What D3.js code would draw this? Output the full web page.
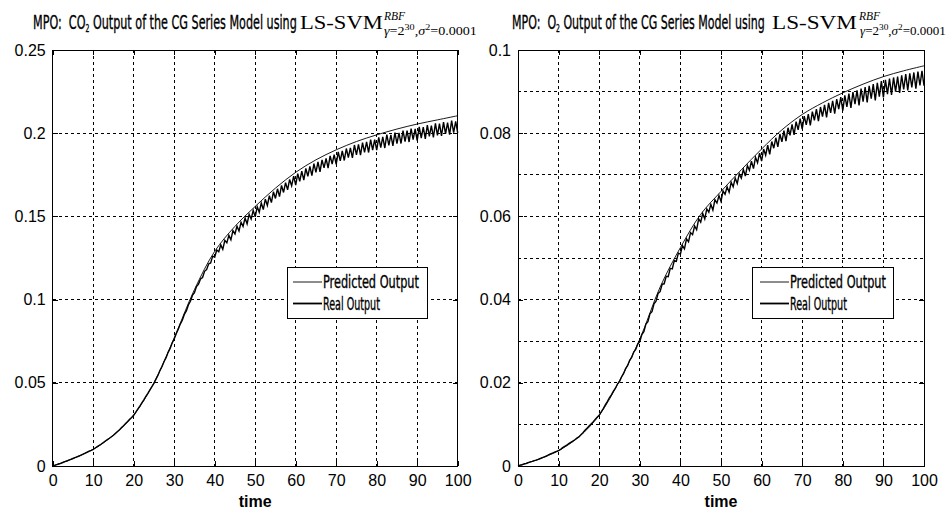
<!DOCTYPE html>
<html><head><meta charset="utf-8">
<script src="https://cdn.jsdelivr.net/npm/d3@7"></script>
<style>body{margin:0;background:#fff}svg{display:block}text{white-space:pre}</style>
</head><body>
<script>
// ---------- DATA ----------
const predTime = [0,5,10,15,20,25,30,35,40,45,50,55,60,65,70,75,80,85,90,95,100];
const co2Pred = [0,0.0045,0.0100,0.0185,0.0306,0.0500,0.0770,0.1060,0.1290,0.1440,0.1560,0.1670,0.1765,0.1840,0.1900,0.1950,0.1990,0.2025,0.2055,0.2080,0.2105];
const o2Pred = [0,0.0016,0.0037,0.0070,0.0122,0.0205,0.0305,0.0430,0.0525,0.0605,0.0660,0.0712,0.0762,0.0808,0.0845,0.0873,0.0897,0.0918,0.0936,0.0950,0.0962];

const realTime = d3.range(0, 100.25, 0.5);
const co2Real = [
0,0.0004,0.0008,0.0012,0.0016,0.0021,0.0026,0.0030,0.0035,0.0040,
0.0045,0.0050,0.0055,0.0060,0.0066,0.0072,0.0077,0.0083,0.0089,0.0094,
0.0100,0.0108,0.0116,0.0124,0.0132,0.0141,0.0150,0.0159,0.0167,0.0176,
0.0185,0.0196,0.0207,0.0218,0.0231,0.0242,0.0256,0.0267,0.0281,0.0292,
0.0305,0.0322,0.0342,0.0359,0.0380,0.0397,0.0419,0.0437,0.0458,0.0477,
0.0497,0.0522,0.0546,0.0575,0.0598,0.0628,0.0651,0.0683,0.0706,0.0739,
0.0763,0.0795,0.0822,0.0853,0.0876,0.0911,0.0932,0.0968,0.0990,0.1025,
0.1041,0.1078,0.1093,0.1124,0.1133,0.1170,0.1180,0.1214,0.1220,0.1261,
0.1255,0.1298,0.1288,0.1329,0.1302,0.1356,0.1341,0.1386,0.1359,0.1415,
0.1395,0.1441,0.1412,0.1465,0.1440,0.1490,0.1455,0.1513,0.1484,0.1536,
0.1497,0.1558,0.1525,0.1581,0.1541,0.1604,0.1566,0.1624,0.1583,0.1648,
0.1608,0.1666,0.1619,0.1686,0.1644,0.1703,0.1660,0.1722,0.1684,0.1742,
0.1688,0.1757,0.1711,0.1772,0.1718,0.1788,0.1741,0.1801,0.1745,0.1817,
0.1765,0.1828,0.1768,0.1840,0.1792,0.1849,0.1790,0.1864,0.1815,0.1871,
0.1813,0.1888,0.1834,0.1893,0.1836,0.1908,0.1853,0.1912,0.1852,0.1929,
0.1870,0.1933,0.1868,0.1944,0.1885,0.1948,0.1884,0.1961,0.1899,0.1962,
0.1898,0.1975,0.1913,0.1978,0.1911,0.1991,0.1927,0.1990,0.1924,0.2004,
0.1937,0.2002,0.1938,0.2016,0.1950,0.2015,0.1947,0.2027,0.1962,0.2026,
0.1956,0.2038,0.1970,0.2037,0.1966,0.2049,0.1981,0.2046,0.1975,0.2059,
0.1987,0.2057,0.1984,0.2067,0.1996,0.2064,0.1991,0.2075,0.2004,0.2071,
0.2002];
const o2Real = [
0,0.0002,0.0003,0.0005,0.0006,0.0008,0.0010,0.0011,0.0013,0.0014,
0.0016,0.0018,0.0020,0.0022,0.0024,0.0027,0.0029,0.0031,0.0033,0.0035,
0.0037,0.0040,0.0044,0.0047,0.0050,0.0054,0.0057,0.0060,0.0063,0.0067,
0.0070,0.0075,0.0080,0.0086,0.0091,0.0096,0.0101,0.0106,0.0112,0.0117,
0.0122,0.0130,0.0138,0.0147,0.0155,0.0164,0.0171,0.0180,0.0187,0.0197,
0.0203,0.0214,0.0222,0.0234,0.0241,0.0254,0.0261,0.0274,0.0280,0.0293,
0.0299,0.0316,0.0323,0.0341,0.0347,0.0366,0.0371,0.0390,0.0396,0.0415,
0.0419,0.0437,0.0438,0.0456,0.0455,0.0475,0.0474,0.0494,0.0492,0.0512,
0.0509,0.0530,0.0522,0.0546,0.0539,0.0561,0.0556,0.0577,0.0568,0.0594,
0.0586,0.0607,0.0594,0.0618,0.0610,0.0629,0.0615,0.0640,0.0632,0.0650,
0.0636,0.0661,0.0653,0.0671,0.0658,0.0682,0.0671,0.0692,0.0679,0.0702,
0.0692,0.0713,0.0697,0.0722,0.0711,0.0733,0.0715,0.0742,0.0729,0.0752,
0.0733,0.0762,0.0747,0.0771,0.0749,0.0780,0.0764,0.0789,0.0767,0.0798,
0.0779,0.0806,0.0781,0.0813,0.0795,0.0821,0.0796,0.0828,0.0808,0.0835,
0.0810,0.0841,0.0820,0.0846,0.0819,0.0852,0.0831,0.0858,0.0829,0.0863,
0.0840,0.0868,0.0838,0.0873,0.0849,0.0878,0.0847,0.0882,0.0858,0.0887,
0.0854,0.0891,0.0863,0.0895,0.0861,0.0899,0.0870,0.0903,0.0867,0.0907,
0.0876,0.0911,0.0874,0.0914,0.0883,0.0918,0.0879,0.0921,0.0888,0.0925,
0.0886,0.0928,0.0894,0.0931,0.0892,0.0934,0.0900,0.0936,0.0897,0.0939,
0.0905,0.0942,0.0903,0.0944,0.0910,0.0946,0.0907,0.0948,0.0915,0.0950,
0.0914];

const xTicks = [0,10,20,30,40,50,60,70,80,90,100];
const co2Ticks = [0,0.05,0.1,0.15,0.2,0.25];
const o2Ticks = [0,0.02,0.04,0.06,0.08,0.1];
const o2GridY = [0,0.01,0.02,0.03,0.04,0.05,0.06,0.07,0.08,0.09,0.1];
const legendLabels = ["Predicted Output","Real Output"];
const xLabel = "time";
const titleGases = ["CO","O"];
const titleRest = " Output of the CG Series Model using";
const modelName = "LS-SVM";
const kernelName = "RBF";

// ---------- DRAW ----------
const W = 950, H = 509;
const svg = d3.select("body").append("svg").attr("width", W).attr("height", H);
const condensed = "'Liberation Sans Narrow','DejaVu Sans Condensed','Roboto Condensed',sans-serif";
const serif = "'Liberation Serif','DejaVu Serif',serif";
const sans = "'Liberation Sans',Arial,sans-serif";

const panels = [
  {x0:52.7, x1:457.7, y0:50, y1:466, yMax:0.25, yTicks:co2Ticks, yGrid:co2Ticks, pred:co2Pred, real:co2Real,
   gas:titleGases[0], t0:33, t1:297, ls0:300, ls1:383, sup0:384, sub0:384, sub1:477,
   leg:{x:287, y:267, w:140, h:51, lx0:293, lx1:322}},
  {x0:518, x1:924, y0:50, y1:466, yMax:0.1, yTicks:o2Ticks, yGrid:o2GridY, pred:o2Pred, real:o2Real,
   gas:titleGases[1], t0:512, t1:765, ls0:772, ls1:857, sup0:859, sub0:860, sub1:946,
   leg:{x:752, y:267, w:141, h:51, lx0:760, lx1:789}}
];

function fitX(g, x0, x1, y) {
  const bb = g.node().getBBox();
  const sx = (x1 - x0) / bb.width;
  g.attr("transform", `translate(${x0 - bb.x*sx},${y}) scale(${sx},1)`);
}

panels.forEach(p => {
  const x = d3.scaleLinear().domain([0,100]).range([p.x0, p.x1]);
  const y = d3.scaleLinear().domain([0,p.yMax]).range([p.y1, p.y0]);
  const g = svg.append("g");

  // grid
  g.append("g").selectAll("line").data(xTicks.slice(1,-1)).join("line")
    .attr("x1", d=>x(d)).attr("x2", d=>x(d)).attr("y1", p.y0).attr("y2", p.y1)
    .attr("stroke","#000").attr("stroke-width",1).attr("stroke-dasharray","3,3").attr("shape-rendering","crispEdges");
  g.append("g").selectAll("line").data(p.yGrid.slice(1,-1)).join("line")
    .attr("x1", p.x0).attr("x2", p.x1).attr("y1", d=>y(d)).attr("y2", d=>y(d))
    .attr("stroke","#000").attr("stroke-width",1).attr("stroke-dasharray","3,3").attr("shape-rendering","crispEdges");

  // axes
  g.append("g").attr("transform",`translate(0,${p.y1})`)
    .call(d3.axisBottom(x).tickValues(xTicks).tickSize(-5).tickPadding(9).tickFormat(d3.format("d")));
  g.append("g").attr("transform",`translate(${p.x0},0)`)
    .call(d3.axisLeft(y).tickValues(p.yTicks).tickSize(-5).tickPadding(7).tickFormat(d => d===0 ? "0" : String(+d.toFixed(3))));
  g.append("g").attr("transform",`translate(0,${p.y0})`)
    .call(d3.axisTop(x).tickValues(xTicks).tickSize(-5).tickFormat(""));
  g.append("g").attr("transform",`translate(${p.x1},0)`)
    .call(d3.axisRight(y).tickValues(p.yTicks).tickSize(-5).tickFormat(""));
  g.selectAll(".domain").remove();
  g.selectAll(".tick line").attr("stroke","#000").attr("shape-rendering","crispEdges");
  g.selectAll(".tick text").attr("font-family", sans).attr("font-size", 16).attr("fill","#000");

  // data lines
  const realLine = d3.line().x((d,i)=>x(realTime[i])).y(d=>y(d));
  const predLine = d3.line().x((d,i)=>x(predTime[i])).y(d=>y(d)).curve(d3.curveCatmullRom.alpha(0.5));
  g.append("path").datum(p.real).attr("d", realLine).attr("fill","none").attr("stroke","#000").attr("stroke-width",1.4);
  g.append("path").datum(p.pred).attr("d", predLine).attr("fill","none").attr("stroke","#000").attr("stroke-width",0.9);

  // frame
  g.append("rect").attr("x",p.x0).attr("y",p.y0).attr("width",p.x1-p.x0).attr("height",p.y1-p.y0)
    .attr("fill","none").attr("stroke","#000").attr("stroke-width",1).attr("shape-rendering","crispEdges");

  // x label
  g.append("text").attr("x",(p.x0+p.x1)/2).attr("y",507).attr("text-anchor","middle")
    .attr("font-family",sans).attr("font-weight","bold").attr("font-size",16).text(xLabel);

  // legend
  const L = p.leg;
  const lg = g.append("g");
  lg.append("rect").attr("x",L.x).attr("y",L.y).attr("width",L.w).attr("height",L.h)
    .attr("fill","#fff").attr("stroke","#000").attr("stroke-width",1).attr("shape-rendering","crispEdges");
  legendLabels.forEach((lab,i) => {
    const cy = L.y + 15 + i*21.5;
    lg.append("line").attr("x1",L.lx0).attr("x2",L.lx1).attr("y1",cy).attr("y2",cy)
      .attr("stroke","#000").attr("stroke-width", i===0 ? 0.9 : 1.8);
    const tg = lg.append("g");
    tg.append("text").attr("x",0).attr("y",0).attr("font-family",condensed).attr("font-size",18)
      .attr("fill","#000").attr("stroke","#000").attr("stroke-width",0.35).text(lab);
    const wTarget = i===0 ? 96 : 57;
    fitX(tg, L.lx1+1, L.lx1+1+wTarget, cy+6);
  });

  // title: condensed part
  const tg = svg.append("g");
  const tt = tg.append("text").attr("font-family",condensed).attr("font-size",20).attr("fill","#000")
    .attr("stroke","#000").attr("stroke-width",0.35);
  tt.append("tspan").text("MPO:  " + p.gas);
  tt.append("tspan").attr("font-size",11).attr("dy",3).text("2");
  tt.append("tspan").attr("dy",-3).text(titleRest);
  fitX(tg, p.t0, p.t1, 29);

  // LS-SVM
  const lsg = svg.append("g");
  lsg.append("text").attr("font-family",serif).attr("font-size",19).attr("fill","#000").text(modelName);
  fitX(lsg, p.ls0, p.ls1, 29);
  // superscript RBF
  svg.append("text").attr("x",p.sup0).attr("y",20).attr("font-family",serif).attr("font-style","italic")
    .attr("font-size",11.5).attr("fill","#000").text(kernelName);
  // subscript
  const sg = svg.append("g");
  const st = sg.append("text").attr("font-family",serif).attr("font-size",12.5).attr("fill","#000");
  st.append("tspan").attr("font-style","italic").text("γ");
  st.append("tspan").text("=2");
  st.append("tspan").attr("font-size",9).attr("dy",-5).text("30");
  st.append("tspan").attr("dy",5).text(",");
  st.append("tspan").attr("font-style","italic").text("σ");
  st.append("tspan").attr("font-size",9).attr("dy",-5).text("2");
  st.append("tspan").attr("dy",5).text("=0.0001");
  fitX(sg, p.sub0, p.sub1, 35);
});
</script>
</body></html>
